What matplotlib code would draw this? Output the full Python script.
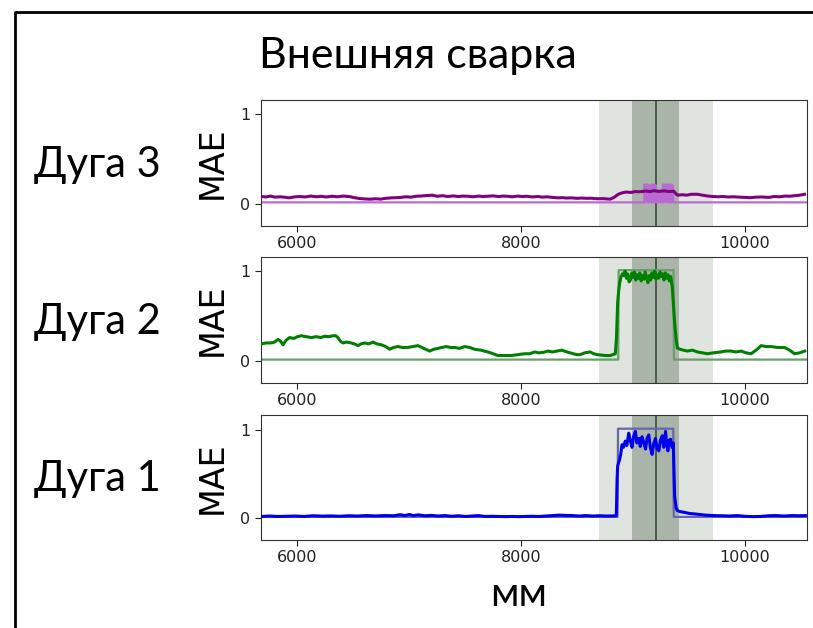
import matplotlib
matplotlib.use("Agg")
import matplotlib.pyplot as plt
from matplotlib.lines import Line2D

# ---------------- data ----------------
title = "Внешняя сварка"
arc_labels = ["Дуга 3", "Дуга 2", "Дуга 1"]
ylabel = "MAE"
xlabel = "мм"
xticks = [6000, 8000, 10000]
yticks = [0, 1]
xlim = (5673, 10555)
ylim = (-0.24, 1.16)

# shaded zones (mm)
zone_wide = (8695, 9715)
zone_narrow = (8995, 9415)
zone_center = 9205

# Arc 3 (purple)
x3 = [5680, 5720, 5760, 5800, 5850, 5900, 5928, 5970, 6020, 6070, 6120, 6170, 6212, 6260,
      6310, 6360, 6410, 6462, 6520, 6560, 6603, 6650, 6700, 6745, 6790, 6840, 6880, 6921,
      6970, 7020, 7060, 7100, 7150, 7205, 7250, 7300, 7345, 7390, 7440, 7480, 7523, 7570,
      7620, 7660, 7700, 7750, 7800, 7840, 7877, 7920, 7970, 8010, 8054, 8100, 8150, 8190,
      8231, 8280, 8330, 8370, 8408, 8450, 8500, 8540, 8585, 8630, 8680, 8730, 8770, 8797,
      8830, 8869, 8900, 8939, 8980, 9020, 9060, 9116, 9150, 9190, 9230, 9280, 9320, 9364,
      9380, 9399, 9440, 9480, 9520, 9577, 9620, 9670, 9718, 9760, 9800, 9850, 9900, 9950,
      10003, 10050, 10100, 10150, 10215, 10260, 10310, 10356, 10400, 10450, 10490, 10533]
y3 = [0.085, 0.080, 0.090, 0.078, 0.082, 0.075, 0.070, 0.080, 0.085, 0.080, 0.090, 0.082, 0.087, 0.080,
      0.088, 0.082, 0.090, 0.085, 0.070, 0.062, 0.058, 0.055, 0.060, 0.056, 0.065, 0.070, 0.072, 0.075,
      0.082, 0.078, 0.088, 0.090, 0.095, 0.100, 0.088, 0.094, 0.085, 0.092, 0.085, 0.090, 0.088, 0.082,
      0.090, 0.085, 0.088, 0.092, 0.085, 0.090, 0.088, 0.082, 0.090, 0.085, 0.088, 0.080, 0.085, 0.078,
      0.082, 0.075, 0.070, 0.072, 0.068, 0.070, 0.065, 0.068, 0.065, 0.066, 0.060, 0.062, 0.058, 0.056,
      0.075, 0.110, 0.125, 0.135, 0.130, 0.140, 0.138, 0.146, 0.140, 0.150, 0.142, 0.148, 0.140, 0.145,
      0.120, 0.100, 0.105, 0.100, 0.110, 0.110, 0.100, 0.090, 0.085, 0.082, 0.085, 0.080, 0.082, 0.078,
      0.075, 0.072, 0.078, 0.080, 0.075, 0.085, 0.082, 0.090, 0.088, 0.095, 0.100, 0.110]
t3x = [5680, 9100, 9104, 9110, 9114, 9120, 9126, 9132, 9138, 9144, 9150, 9156, 9162, 9168,
       9174, 9180, 9186, 9192, 9198, 9204, 9210, 9216, 9222, 9228, 9234, 9240, 9246, 9252,
       9258, 9264, 9270, 9276, 9282, 9288, 9294, 9300, 9306, 9312, 9318, 9324, 9330, 9336,
       9342, 9348, 9354, 9360, 9364, 10545]
t3y = [0.02, 0.02, 0.22, 0.02, 0.21, 0.22, 0.03, 0.22, 0.02, 0.15, 0.02, 0.21, 0.03, 0.22,
       0.02, 0.20, 0.02, 0.22, 0.03, 0.21, 0.02, 0.14, 0.02, 0.15, 0.03, 0.14, 0.02, 0.15,
       0.02, 0.14, 0.22, 0.02, 0.21, 0.22, 0.03, 0.22, 0.02, 0.21, 0.03, 0.22, 0.02, 0.20,
       0.22, 0.02, 0.21, 0.03, 0.02, 0.02]

# Arc 2 (green)
x2 = [5680, 5720, 5760, 5798, 5828, 5850, 5872, 5900, 5932, 5970, 6000, 6036, 6080, 6125,
      6170, 6210, 6245, 6280, 6319, 6345, 6363, 6385, 6408, 6440, 6482, 6510, 6542, 6570,
      6602, 6640, 6676, 6710, 6750, 6790, 6825, 6860, 6899, 6940, 6988, 7030, 7078, 7130,
      7182, 7220, 7256, 7290, 7330, 7370, 7405, 7450, 7495, 7540, 7584, 7640, 7703, 7750,
      7792, 7850, 7911, 7970, 8030, 8078, 8120, 8160, 8197, 8240, 8280, 8320, 8362, 8410,
      8467, 8500, 8527, 8570, 8617, 8650, 8677, 8720, 8760, 8796, 8820, 8842, 8852, 8863,
      8872, 8880, 8892, 8905, 8917, 8929, 8941, 8953, 8965, 8977, 8989, 9001, 9013, 9025,
      9037, 9049, 9061, 9073, 9085, 9097, 9109, 9121, 9133, 9145, 9157, 9169, 9181, 9193,
      9205, 9217, 9229, 9241, 9253, 9265, 9277, 9289, 9301, 9313, 9325, 9337, 9351, 9360,
      9372, 9385, 9396, 9420, 9450, 9486, 9530, 9576, 9620, 9666, 9720, 9786, 9830, 9875,
      9920, 9965, 10010, 10055, 10100, 10145, 10190, 10235, 10290, 10354, 10400, 10444,
      10490, 10535]
y2 = [0.19, 0.20, 0.20, 0.21, 0.24, 0.22, 0.18, 0.23, 0.26, 0.25, 0.27, 0.28, 0.27, 0.26,
      0.27, 0.26, 0.275, 0.27, 0.28, 0.28, 0.26, 0.22, 0.20, 0.21, 0.20, 0.19, 0.17, 0.19,
      0.20, 0.19, 0.21, 0.19, 0.18, 0.16, 0.13, 0.15, 0.16, 0.15, 0.15, 0.16, 0.17, 0.14,
      0.11, 0.13, 0.14, 0.15, 0.16, 0.15, 0.15, 0.14, 0.16, 0.15, 0.13, 0.12, 0.10, 0.08,
      0.06, 0.06, 0.06, 0.07, 0.08, 0.08, 0.10, 0.09, 0.095, 0.11, 0.10, 0.11, 0.12, 0.10,
      0.08, 0.07, 0.07, 0.09, 0.10, 0.08, 0.07, 0.065, 0.06, 0.06, 0.07, 0.08, 0.25, 0.65,
      0.78, 0.86, 0.93, 0.97, 0.95, 1.00, 0.92, 0.97, 0.88, 0.90, 0.98, 0.93, 0.99, 0.90,
      0.96, 0.92, 0.98, 0.89, 0.95, 0.91, 0.99, 0.93, 0.87, 0.95, 0.90, 0.98, 0.93, 1.00,
      0.91, 0.96, 0.92, 0.99, 0.94, 0.97, 0.90, 0.98, 0.92, 0.96, 0.89, 0.94, 0.82, 0.65,
      0.43, 0.25, 0.145, 0.13, 0.12, 0.11, 0.12, 0.10, 0.09, 0.08, 0.09, 0.10, 0.11, 0.11,
      0.10, 0.11, 0.09, 0.08, 0.12, 0.17, 0.16, 0.16, 0.15, 0.15, 0.12, 0.08,
      0.09, 0.11]
t2x = [5680, 8868, 8872, 9362, 9366, 10545]
t2y = [0.015, 0.015, 1.01, 1.01, 0.015, 0.015]

# Arc 1 (blue)
x1 = [5680, 5750, 5820, 5900, 5980, 6060, 6140, 6220, 6300, 6380, 6460, 6540, 6620, 6700,
      6780, 6860, 6920, 6960, 7000, 7040, 7080, 7140, 7200, 7260, 7320, 7380, 7440, 7500,
      7560, 7620, 7680, 7740, 7800, 7860, 7920, 7980, 8040, 8100, 8160, 8220, 8280, 8340,
      8400, 8460, 8520, 8580, 8640, 8700, 8760, 8820, 8851, 8858, 8863, 8870, 8880, 8890,
      8902, 8915, 8931, 8945, 8962, 8975, 8991, 9005, 9021, 9035, 9052, 9065, 9081, 9095,
      9112, 9125, 9141, 9155, 9171, 9185, 9201, 9215, 9231, 9245, 9262, 9275, 9291, 9300,
      9312, 9322, 9336, 9348, 9360, 9366, 9372, 9385, 9396, 9420, 9456, 9500, 9576, 9650,
      9720, 9790, 9860, 9930, 10000, 10070, 10140, 10210, 10280, 10350, 10420, 10490, 10540]
y1 = [0.020, 0.025, 0.020, 0.022, 0.025, 0.020, 0.028, 0.024, 0.026, 0.022, 0.028, 0.025, 0.030, 0.026,
      0.030, 0.028, 0.040, 0.030, 0.042, 0.030, 0.038, 0.028, 0.032, 0.025, 0.030, 0.022, 0.028, 0.020,
      0.025, 0.030, 0.020, 0.022, 0.020, 0.018, 0.020, 0.018, 0.020, 0.022, 0.020, 0.025, 0.030, 0.035,
      0.032, 0.030, 0.025, 0.030, 0.025, 0.028, 0.025, 0.026, 0.030, 0.45, 0.59, 0.62, 0.66, 0.72,
      0.83, 0.80, 0.87, 0.82, 0.96, 0.88, 0.80, 0.92, 0.98, 0.85, 0.90, 0.81, 0.92, 0.86,
      0.78, 0.90, 0.94, 0.80, 0.72, 0.84, 0.90, 0.79, 0.76, 0.88, 0.93, 0.80, 0.98, 0.85,
      0.76, 0.88, 0.89, 0.80, 0.85, 0.55, 0.25, 0.12, 0.086, 0.075, 0.067, 0.055, 0.045, 0.035,
      0.030, 0.028, 0.025, 0.030, 0.022, 0.018, 0.020, 0.028, 0.030, 0.025, 0.030, 0.028, 0.030]
t1x = [5680, 8862, 8866, 9360, 9364, 10545]
t1y = [0.015, 0.015, 1.01, 1.01, 0.015, 0.015]

series = [
    (x3, y3, t3x, t3y, "#800080", (0.72, 0.42, 0.82)),
    (x2, y2, t2x, t2y, "#008000", (0.42, 0.62, 0.42)),
    (x1, y1, t1x, t1y, "#0000ee", (0.40, 0.40, 0.68)),
]

# ---------------- figure ----------------
W, H = 813, 628
fig = plt.figure(figsize=(W / 100, H / 100), dpi=100)
fig.patch.set_facecolor("white")

axes_px = [(100, 225.7), (256.7, 382.5), (415.4, 539.5)]
left_px, right_px = 260.7, 807
label_font = ["Lato", "Noto Sans", "DejaVu Sans"]

for (top, bot), (xs, ys, txs, tys, col, tcol), lab in zip(axes_px, series, arc_labels):
    ax = fig.add_axes([left_px / W, 1 - bot / H, (right_px - left_px) / W, (bot - top) / H])
    ax.axvspan(*zone_wide, color="#dfe4df", lw=0, zorder=0)
    ax.axvspan(*zone_narrow, color="#aab4a8", lw=0, zorder=0.5)
    ax.axvline(zone_center, color="#3c5a3c", lw=1.3, zorder=1)
    ax.plot(txs, tys, color=tcol, lw=1.6, zorder=2)
    ax.plot(xs, ys, color=col, lw=2.2, zorder=3)
    ax.set_xlim(*xlim)
    ax.set_ylim(*ylim)
    ax.set_xticks(xticks)
    ax.set_yticks(yticks)
    ax.tick_params(labelsize=11.5, colors="#222222", length=4)
    for s in ax.spines.values():
        s.set_color("#333333")
    ax.set_ylabel(ylabel, fontsize=24, labelpad=8)
    fig.text(97 / W, 1 - ((top + bot) / 2 + 2) / H, lab, fontsize=30,
             family=label_font, ha="center", va="center")

fig.text(418 / W, 1 - 56 / H, title, fontsize=31, family=label_font,
         ha="center", va="center")
fig.text(519 / W, 1 - 595 / H, xlabel, fontsize=29, family=label_font,
         ha="center", va="center")

# slide border (left and top)
fig.add_artist(Line2D([15 / W, 15 / W, 1.0], [0.0, 1 - 12 / H, 1 - 12 / H],
                      transform=fig.transFigure, color="black", lw=2.0))

fig.savefig("out.png", dpi=100, facecolor="white")
